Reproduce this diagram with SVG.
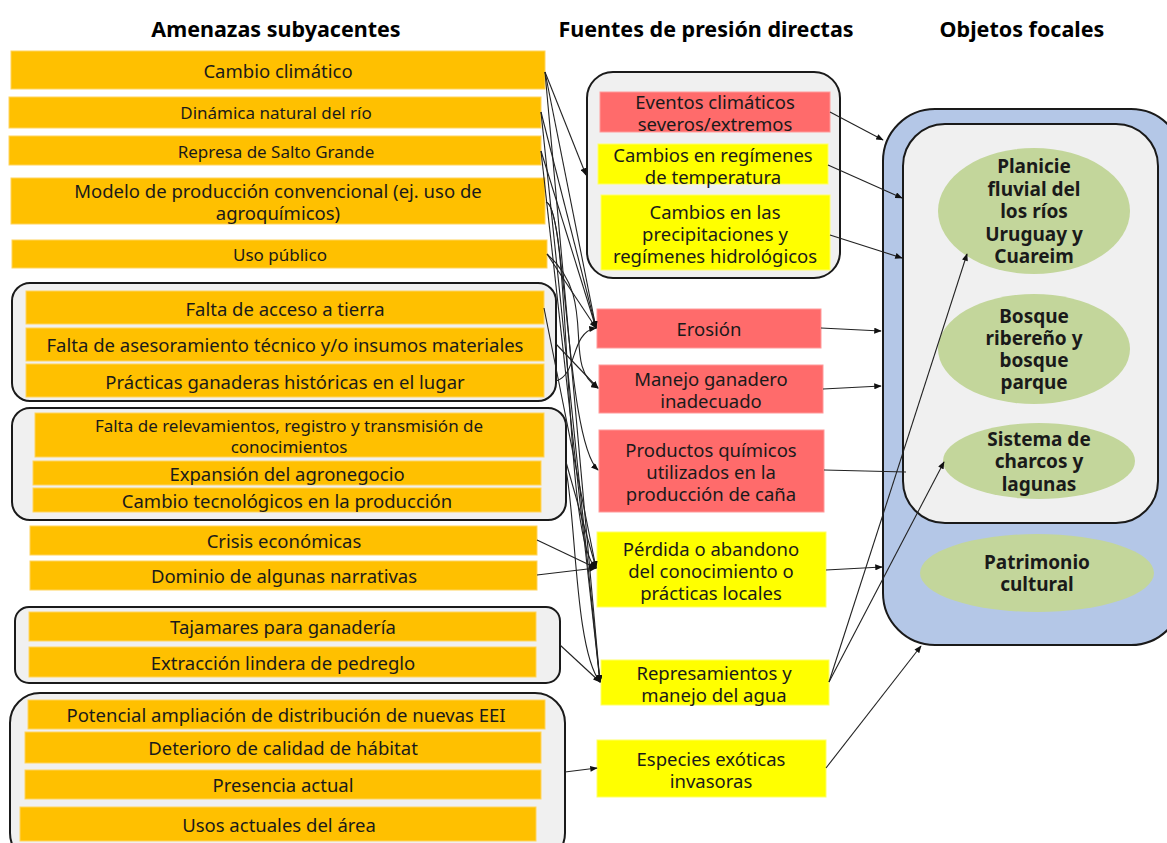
<svg xmlns="http://www.w3.org/2000/svg" width="1167" height="843" viewBox="0 0 1167 843">
<defs>
<marker id="ah" viewBox="0 0 10 8" refX="9" refY="4" markerWidth="8" markerHeight="6" markerUnits="userSpaceOnUse" orient="auto">
<path d="M0,0 L10,4 L0,8 z" fill="#111"/>
</marker>
<style>
text{font-family:"Noto Sans","Open Sans","DejaVu Sans",sans-serif;fill:#1a1a1a;text-anchor:middle;dominant-baseline:central}
.h{font-size:21.5px;font-weight:bold;fill:#000}
.t{font-size:18.5px}
.s{font-size:17px}
.b{font-size:19px;font-weight:bold}
.or{fill:#FFC000;stroke:#FFD45C;stroke-width:1}
.rd{fill:#FF6B6B;stroke:#FF9A9A;stroke-width:1}
.ye{fill:#FFFF00;stroke:#FFFF66;stroke-width:1}
.grp{fill:#F0F0F0;stroke:#1a1a1a;stroke-width:2}
.el{fill:#C3D69B}
.c{fill:none;stroke:#222;stroke-width:1.1}
.ca{fill:none;stroke:#222;stroke-width:1.1;marker-end:url(#ah)}
</style>
</defs>
<rect width="1167" height="843" fill="#fff"/>

<g id="headers">
<text class="h" x="276" y="28">Amenazas subyacentes</text>
<text class="h" x="706" y="28">Fuentes de presión directas</text>
<text class="h" x="1022" y="28">Objetos focales</text>
</g>

<!-- Left column -->
<g id="n-cambio-climatico"><rect class="or" x="11" y="51" width="534" height="38"/><text class="t" x="278" y="70">Cambio climático</text></g>
<g id="n-dinamica"><rect class="or" x="9" y="97" width="532" height="31"/><text class="s" x="276" y="112">Dinámica natural del río</text></g>
<g id="n-represa"><rect class="or" x="9" y="136" width="532" height="29"/><text class="s" x="276" y="151">Represa de Salto Grande</text></g>
<g id="n-modelo"><rect class="or" x="11" y="178" width="534" height="46"/><text class="t" x="278" y="190">Modelo de producción convencional (ej. uso de</text><text class="t" x="278" y="212">agroquímicos)</text></g>
<g id="n-uso-publico"><rect class="or" x="12" y="240" width="535" height="28"/><text class="s" x="280" y="254">Uso público</text></g>

<g id="g-grupo1">
<rect class="grp" x="12" y="283" width="544" height="118" rx="18"/>
<g id="n-acceso-tierra"><rect class="or" x="26" y="291" width="518" height="33"/><text class="t" x="285" y="308">Falta de acceso a tierra</text></g>
<g id="n-asesoramiento"><rect class="or" x="26" y="328" width="518" height="33"/><text class="t" x="285" y="344">Falta de asesoramiento técnico y/o insumos materiales</text></g>
<g id="n-practicas"><rect class="or" x="26" y="364" width="518" height="33"/><text class="t" x="285" y="381">Prácticas ganaderas históricas en el lugar</text></g>
</g>

<g id="g-grupo2">
<rect class="grp" x="12" y="408" width="554" height="112" rx="18"/>
<g id="n-relevamientos"><rect class="or" x="35" y="413" width="509" height="44"/><text class="s" x="289" y="425">Falta de relevamientos, registro y transmisión de</text><text class="s" x="289" y="446">conocimientos</text></g>
<g id="n-agronegocio"><rect class="or" x="33" y="461" width="508" height="24"/><text class="t" x="287" y="473">Expansión del agronegocio</text></g>
<g id="n-tecnologicos"><rect class="or" x="33" y="488" width="508" height="24"/><text class="t" x="287" y="500">Cambio tecnológicos en la producción</text></g>
</g>

<g id="n-crisis"><rect class="or" x="30" y="526" width="507" height="29"/><text class="t" x="284" y="540">Crisis económicas</text></g>
<g id="n-dominio"><rect class="or" x="30" y="561" width="507" height="29"/><text class="t" x="284" y="575">Dominio de algunas narrativas</text></g>

<g id="g-grupo3">
<rect class="grp" x="15" y="607" width="545" height="76" rx="14"/>
<g id="n-tajamares"><rect class="or" x="29" y="612" width="507" height="29"/><text class="t" x="283" y="626">Tajamares para ganadería</text></g>
<g id="n-extraccion"><rect class="or" x="29" y="647" width="507" height="30"/><text class="t" x="283" y="662">Extracción lindera de pedreglo</text></g>
</g>

<g id="g-grupo4">
<rect class="grp" x="10" y="693" width="555" height="170" rx="30"/>
<g id="n-potencial"><rect class="or" x="28" y="700" width="517" height="29"/><text class="t" x="286" y="714">Potencial ampliación de distribución de nuevas EEI</text></g>
<g id="n-deterioro"><rect class="or" x="25" y="732" width="516" height="31"/><text class="t" x="283" y="747">Deterioro de calidad de hábitat</text></g>
<g id="n-presencia"><rect class="or" x="25" y="770" width="516" height="29"/><text class="t" x="283" y="784">Presencia actual</text></g>
<g id="n-usos"><rect class="or" x="20" y="807" width="516" height="34"/><text class="t" x="279" y="824">Usos actuales del área</text></g>
</g>

<!-- Middle column -->
<g id="g-clima">
<rect class="grp" x="587" y="72" width="253" height="206" rx="26"/>
<g id="n-eventos"><rect class="rd" x="600" y="92" width="230" height="40"/><text class="t" x="715" y="101">Eventos climáticos</text><text class="t" x="715" y="123">severos/extremos</text></g>
<g id="n-temperatura"><rect class="ye" x="598" y="144" width="230" height="40"/><text class="t" x="713" y="154">Cambios en regímenes</text><text class="t" x="713" y="176">de temperatura</text></g>
<g id="n-precipitaciones"><rect class="ye" x="601" y="195" width="229" height="75"/><text class="t" x="715" y="211">Cambios en las</text><text class="t" x="715" y="233">precipitaciones y</text><text class="t" x="715" y="255">regímenes hidrológicos</text></g>
</g>
<g id="n-erosion"><rect class="rd" x="597" y="309" width="224" height="39"/><text class="t" x="709" y="328">Erosión</text></g>
<g id="n-manejo"><rect class="rd" x="599" y="365" width="224" height="48"/><text class="t" x="711" y="378">Manejo ganadero</text><text class="t" x="711" y="400">inadecuado</text></g>
<g id="n-quimicos"><rect class="rd" x="599" y="430" width="225" height="82"/><text class="t" x="711" y="449">Productos químicos</text><text class="t" x="711" y="471">utilizados en la</text><text class="t" x="711" y="493">producción de caña</text></g>
<g id="n-perdida"><rect class="ye" x="597" y="532" width="229" height="75"/><text class="t" x="711" y="548">Pérdida o abandono</text><text class="t" x="711" y="570">del conocimiento o</text><text class="t" x="711" y="592">prácticas locales</text></g>
<g id="n-represamientos"><rect class="ye" x="601" y="660" width="228" height="45"/><text class="t" x="714" y="672">Represamientos y</text><text class="t" x="714" y="694">manejo del agua</text></g>
<g id="n-especies"><rect class="ye" x="597" y="740" width="229" height="57"/><text class="t" x="711" y="758">Especies exóticas</text><text class="t" x="711" y="780">invasoras</text></g>

<!-- Right column -->
<g id="g-objetos">
<rect x="883" y="109" width="300" height="536" rx="52" fill="#B4C7E7" stroke="#1a1a1a" stroke-width="2"/>
<rect class="grp" x="903" y="124" width="255" height="399" rx="42"/>
<g id="n-planicie"><ellipse class="el" cx="1034" cy="211" rx="96" ry="63"/><text class="b" x="1034" y="166">Planicie</text><text class="b" x="1034" y="189">fluvial del</text><text class="b" x="1034" y="211">los ríos</text><text class="b" x="1034" y="234">Uruguay y</text><text class="b" x="1034" y="256">Cuareim</text></g>
<g id="n-bosque"><ellipse class="el" cx="1034" cy="349" rx="96" ry="55"/><text class="b" x="1034" y="316">Bosque</text><text class="b" x="1034" y="338">ribereño y</text><text class="b" x="1034" y="360">bosque</text><text class="b" x="1034" y="382">parque</text></g>
<g id="n-charcos"><ellipse class="el" cx="1039" cy="461" rx="96" ry="38"/><text class="b" x="1039" y="439">Sistema de</text><text class="b" x="1039" y="461">charcos y</text><text class="b" x="1039" y="484">lagunas</text></g>
<g id="n-patrimonio"><ellipse class="el" cx="1037" cy="573" rx="117" ry="39"/><text class="b" x="1037" y="562">Patrimonio</text><text class="b" x="1037" y="584">cultural</text></g>
</g>

<g id="connectors">
<!-- left to middle -->
<path class="ca" d="M545,72 L586,175"/>
<path class="ca" d="M545,72 L596,328"/>
<path class="ca" d="M545,72 L600,682"/>
<path class="ca" d="M541,112 L596,328"/>
<path class="ca" d="M541,112 L600,682"/>
<path class="ca" d="M541,151 L596,328"/>
<path class="ca" d="M541,151 L600,682"/>
<path class="ca" d="M546,202 C566,204 566,440 598,470"/>
<path class="ca" d="M546,202 C572,210 562,540 596,568"/>
<path class="ca" d="M547,254 L596,328"/>
<path class="ca" d="M547,254 C600,300 560,365 598,388"/>
<path class="ca" d="M544,308 L596,568"/>
<path class="ca" d="M556,344 L598,388"/>
<path class="ca" d="M556,381 C578,375 570,332 596,328"/>
<path class="ca" d="M566,462 L596,568"/>
<path class="ca" d="M566,470 C576,520 575,650 600,682"/>
<path class="ca" d="M537,540 L596,568"/>
<path class="ca" d="M537,575 L596,568"/>
<path class="ca" d="M560,645 L600,682"/>
<path class="ca" d="M565,772 L597,768"/>
<!-- middle to right -->
<path class="ca" d="M830,112 L883,140"/>
<path class="ca" d="M828,165 L902,198"/>
<path class="ca" d="M830,235 L902,258"/>
<path class="ca" d="M821,328 L881,331"/>
<path class="ca" d="M823,389 L881,386"/>
<path class="c" d="M824,470 L906,472"/>
<path class="ca" d="M826,570 L882,567"/>
<path class="ca" d="M829,682 L967,254"/>
<path class="ca" d="M829,682 L944,462"/>
<path class="ca" d="M826,768 L921,646"/>
</g>
</svg>
